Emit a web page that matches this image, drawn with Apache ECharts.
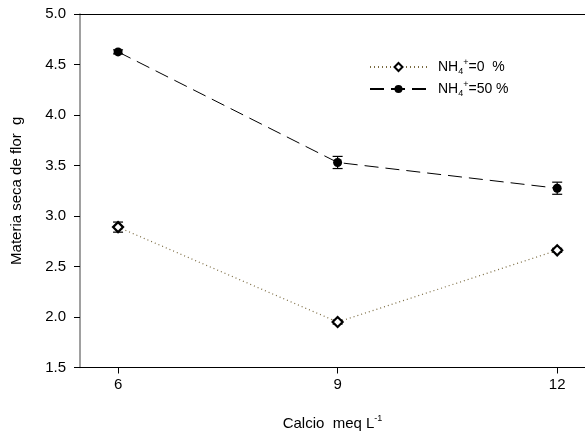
<!DOCTYPE html>
<html>
<head>
<meta charset="utf-8">
<script src="https://cdn.jsdelivr.net/npm/echarts@6/dist/echarts.min.js"></script>
<style>html,body{margin:0;padding:0;background:#fff}#c{width:585px;height:436px}</style>
</head>
<body>
<div id="c"></div>
<script>
var calcio = [6, 9, 12];
var nh0 = [2.89, 1.95, 2.66];
var nh0Err = [0.05, 0.02, 0.02];
var nh50 = [4.625, 3.53, 3.275];
var nh50Err = [0.02, 0.06, 0.06];
var yTicks = [1.5, 2.0, 2.5, 3.0, 3.5, 4.0, 4.5, 5.0];

var FONT = 'Liberation Sans, Arial, sans-serif';

function pairs(xs, ys) { return xs.map(function (x, i) { return [x, ys[i]]; }); }
function errs(xs, ys, es) { return xs.map(function (x, i) { return [x, ys[i] - es[i], ys[i] + es[i]]; }); }

function errRender(params, api) {
  var x = api.value(0), lo = api.value(1), hi = api.value(2);
  var pLo = api.coord([x, lo]), pHi = api.coord([x, hi]);
  var hw = 5;
  var st = { stroke: '#000', lineWidth: 1.2 };
  return {
    type: 'group',
    children: [
      { type: 'line', shape: { x1: pLo[0], y1: pLo[1], x2: pHi[0], y2: pHi[1] }, style: st },
      { type: 'line', shape: { x1: pLo[0] - hw, y1: pLo[1], x2: pLo[0] + hw, y2: pLo[1] }, style: st },
      { type: 'line', shape: { x1: pHi[0] - hw, y1: pHi[1], x2: pHi[0] + hw, y2: pHi[1] }, style: st }
    ]
  };
}

var richLeg = {
  n: { fontFamily: FONT, fontSize: 14, color: '#000' },
  sub: { fontFamily: FONT, fontSize: 9, color: '#000', padding: [9, 0, 0, 0] },
  sup: { fontFamily: FONT, fontSize: 9, color: '#000', padding: [0, 0, 9, 0] }
};

var chart = echarts.init(document.getElementById('c'), null, { renderer: 'canvas' });
chart.setOption({
  animation: false,
  backgroundColor: '#fff',
  grid: { left: 80, top: 14, right: 0, bottom: 65, containLabel: false },
  legend: {
    data: ['NH4+=0  %', 'NH4+=50 %'],
    orient: 'vertical',
    left: 364,
    top: 53,
    itemWidth: 57,
    itemHeight: 10,
    itemGap: 4,
    textStyle: { fontFamily: FONT, fontSize: 14, color: '#000', padding: [0, 0, 0, 6], rich: richLeg },
    formatter: function (name) {
      return name === 'NH4+=0  %' ? '{n|NH}{sub|4}{sup|+}{n|=0  %}' : '{n|NH}{sub|4}{sup|+}{n|=50 %}';
    }
  },
  xAxis: [{
    type: 'value',
    min: 5.48,
    max: 12.38,
    name: '{n|Calcio  meq L}{sup|-1}',
    nameLocation: 'middle',
    nameGap: 47,
    nameTextStyle: { fontFamily: FONT, fontSize: 15, color: '#000', rich: {
      n: { fontFamily: FONT, fontSize: 15, color: '#000' },
      sup: { fontFamily: FONT, fontSize: 9, color: '#000', padding: [0, 0, 9, 0] }
    } },
    splitLine: { show: false },
    axisLine: { show: true, onZero: false, lineStyle: { color: '#000', width: 1 } },
    axisTick: { show: true, inside: false, length: 6, customValues: calcio, lineStyle: { color: '#000' } },
    axisLabel: { show: true, customValues: calcio, fontFamily: FONT, fontSize: 15, color: '#000', margin: 10 }
  }, {
    type: 'value',
    position: 'top',
    min: 5.48,
    max: 12.38,
    splitLine: { show: false },
    axisLine: { show: true, onZero: false, lineStyle: { color: '#000', width: 1.2 } },
    axisTick: { show: false },
    axisLabel: { show: false }
  }],
  yAxis: {
    type: 'value',
    min: 1.5,
    max: 5.0,
    interval: 0.5,
    name: 'Materia seca de flor  g',
    nameLocation: 'middle',
    nameGap: 56,
    nameTextStyle: { fontFamily: FONT, fontSize: 15, color: '#000' },
    splitLine: { show: false },
    axisLine: { show: true, onZero: false, lineStyle: { color: '#808080', width: 1.5 } },
    axisTick: { show: true, inside: false, length: 6, lineStyle: { color: '#000' } },
    axisLabel: { fontFamily: FONT, fontSize: 15, color: '#000', margin: 14, formatter: function (v) { return v.toFixed(1); } }
  },
  series: [
    {
      name: 'NH4+=0  %',
      type: 'line',
      data: pairs(calcio, nh0),
      symbol: 'diamond',
      symbolSize: 10,
      itemStyle: { color: '#fff', borderColor: '#000', borderWidth: 2.2 },
      lineStyle: { color: '#7a6a40', width: 1.2, type: [1, 3] },
      z: 3
    },
    {
      name: 'NH4+=50 %',
      type: 'line',
      data: pairs(calcio, nh50),
      symbol: 'circle',
      symbolSize: 9,
      itemStyle: { color: '#000', borderColor: '#000', borderWidth: 0 },
      lineStyle: { color: '#000', width: 1, type: [14, 7] },
      z: 3
    },
    {
      name: 'err0',
      type: 'custom',
      data: errs(calcio, nh0, nh0Err),
      renderItem: errRender,
      encode: { x: 0, y: [1, 2] },
      z: 2
    },
    {
      name: 'err50',
      type: 'custom',
      data: errs(calcio, nh50, nh50Err),
      renderItem: errRender,
      encode: { x: 0, y: [1, 2] },
      z: 2
    }
  ]
});
</script>
</body>
</html>
